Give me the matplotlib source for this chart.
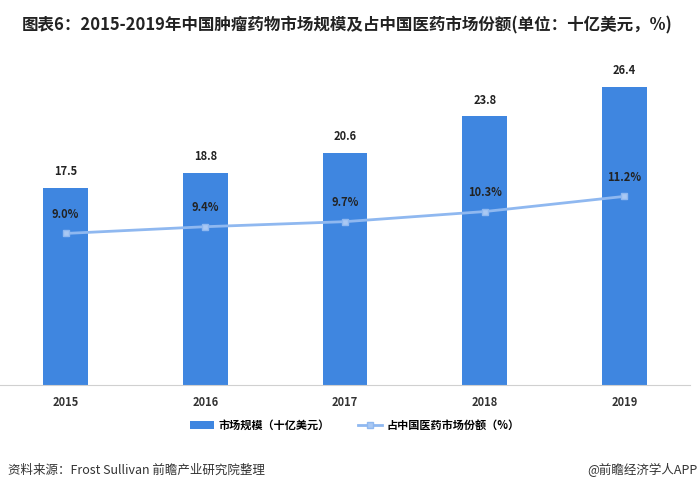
import matplotlib
matplotlib.use("Agg")
import matplotlib.pyplot as plt
from matplotlib.lines import Line2D
from matplotlib.patches import Patch

plt.rcParams['font.family'] = ['Noto Sans CJK SC', 'DejaVu Sans']

years = ['2015', '2016', '2017', '2018', '2019']
market_size = [17.5, 18.8, 20.6, 23.8, 26.4]
share_pct = [9.0, 9.4, 9.7, 10.3, 11.2]

title = '图表6：2015-2019年中国肿瘤药物市场规模及占中国医药市场份额(单位：十亿美元，%)'
legend_bar = '市场规模（十亿美元）'
legend_line = '占中国医药市场份额（%）'
source = '资料来源：Frost Sullivan 前瞻产业研究院整理'
credit = '@前瞻经济学人APP'

bar_color = '#3f86e0'
line_color = '#8fb8f0'

fig = plt.figure(figsize=(7.0, 4.93), dpi=100)
ax = fig.add_axes([0.0, 1 - 385 / 493, 690 / 700, 325 / 493])
x = list(range(len(years)))
ax.bar(x, market_size, width=0.32, color=bar_color, zorder=2)
ax.set_xlim(-0.47, 4.47)
ax.set_ylim(0, 28.8)
for xi, v in zip(x, market_size):
    ax.annotate(f'{v:.1f}', (xi, v), xytext=(0, 7), textcoords='offset points',
                ha='center', va='bottom', fontsize=8, fontweight='bold', color='#222222')
ax.set_xticks(x)
ax.set_xticklabels(years, fontsize=8, fontweight='bold', color='#333333')
ax.tick_params(axis='x', length=0, pad=8)
ax.set_yticks([])
for s in ['top', 'right', 'left']:
    ax.spines[s].set_visible(False)
ax.spines['bottom'].set_color('#d0d0d0')

ax2 = ax.twinx()
ax2.plot(x, share_pct, color=line_color, lw=2, marker='s', markersize=5,
         markerfacecolor='#a9c8f3', markeredgecolor=line_color, zorder=3)
ax2.set_ylim(0, 19.3)
ax2.set_yticks([])
for s in ['top', 'right', 'left', 'bottom']:
    ax2.spines[s].set_visible(False)
for xi, v in zip(x, share_pct):
    ax2.annotate(f'{v:.1f}%', (xi, v), xytext=(0, 9), textcoords='offset points',
                 ha='center', va='bottom', fontsize=8, fontweight='bold', color='#222222')

fig.text(22 / 700, 1 - 25 / 493, title, fontsize=11.9, fontweight='bold',
         color='#222222', va='center', ha='left')

handles = [Patch(facecolor=bar_color, edgecolor='none'),
           Line2D([0], [0], color=line_color, lw=2, marker='s', markersize=5,
                  markerfacecolor='#a9c8f3', markeredgecolor=line_color)]
fig.legend(handles, [legend_bar, legend_line], loc='center', bbox_to_anchor=(355 / 700, 1 - 425 / 493),
           ncol=2, frameon=False, prop={'size': 8, 'weight': 'bold'}, handlelength=2.2,
           columnspacing=2.5, handletextpad=0.4)

fig.text(8 / 700, 1 - 470 / 493, source, fontsize=9, color='#333333', va='center', ha='left')
fig.text(698 / 700, 1 - 470 / 493, credit, fontsize=9, color='#333333', va='center', ha='right')

fig.savefig('out.png', dpi=100)
